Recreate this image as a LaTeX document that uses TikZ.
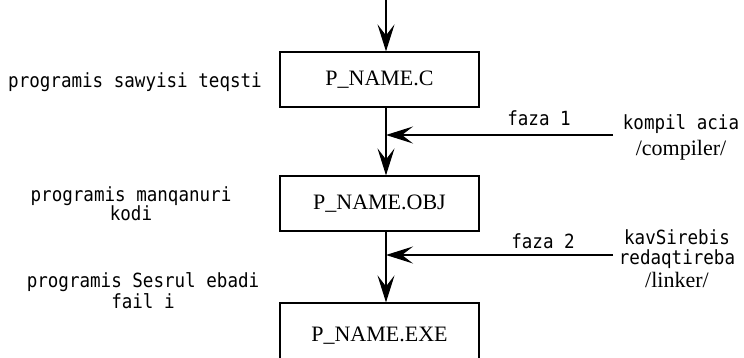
\documentclass[tikz,border=0pt]{standalone}
\usepackage{fontspec}
\setmainfont{Liberation Serif}
\newfontfamily\monofnt[FakeStretch=0.9]{DejaVu Sans Mono}
\usetikzlibrary{arrows.meta}

\tikzset{
  filebox/.style={shape=rectangle,draw=black,line width=1.2pt,minimum width=199pt,minimum height=55pt,inner sep=0pt,font=\fontsize{22}{24}\selectfont},
  note/.style={align=center,inner sep=0pt,font=\monofnt\fontsize{19.5}{20}\selectfont},
  flow/.style={-{Stealth[length=27pt,width=17pt,inset=11pt]},draw=black,line width=1.2pt}
}

\begin{document}
\begin{tikzpicture}[x=1pt,y=-1pt]
\useasboundingbox (0,0) rectangle (744,358);
\clip (0,0) rectangle (744,358);

\node[filebox] (c) at (379.5,79.5) {P\_NAME.C};
\node[filebox] (obj) at (379.5,203.5) {P\_NAME.OBJ};
\node[filebox,minimum height=65pt] (exe) at (379.5,335.5) {P\_NAME.EXE};

\coordinate (top) at (386,0);
\coordinate (in1) at (613,135);
\coordinate (in2) at (613,255);

\node[note] (src) at (135,82) {programis sawyisi teqsti};
\node[note] (mach) at (131,204) {programis manqanuri\\[-1pt]kodi};
\node[note] (run) at (143,291) {programis Sesrul ebadi\\[1pt]fail i};

\node[note] (f1) at (539,118) {faza 1};
\node[note] (f2) at (543,241) {faza 2};
\node[note] (comp) at (681,137) {kompil acia\\[6pt]{\rmfamily\fontsize{22}{24}\selectfont /compiler/}};
\node[note] (link) at (677,259) {kavSirebis\\redaqtireba\\[3pt]{\rmfamily\fontsize{22}{24}\selectfont /linker/}};

\path [flow] (top) -- (top |- c.north);
\path [flow] (c.south -| top) -- (obj.north -| top);
\path [flow] (obj.south -| top) -- (exe.north -| top);
\path [flow] (in1) -- (in1 -| top);
\path [flow] (in2) -- (in2 -| top);
\end{tikzpicture}
\end{document}
